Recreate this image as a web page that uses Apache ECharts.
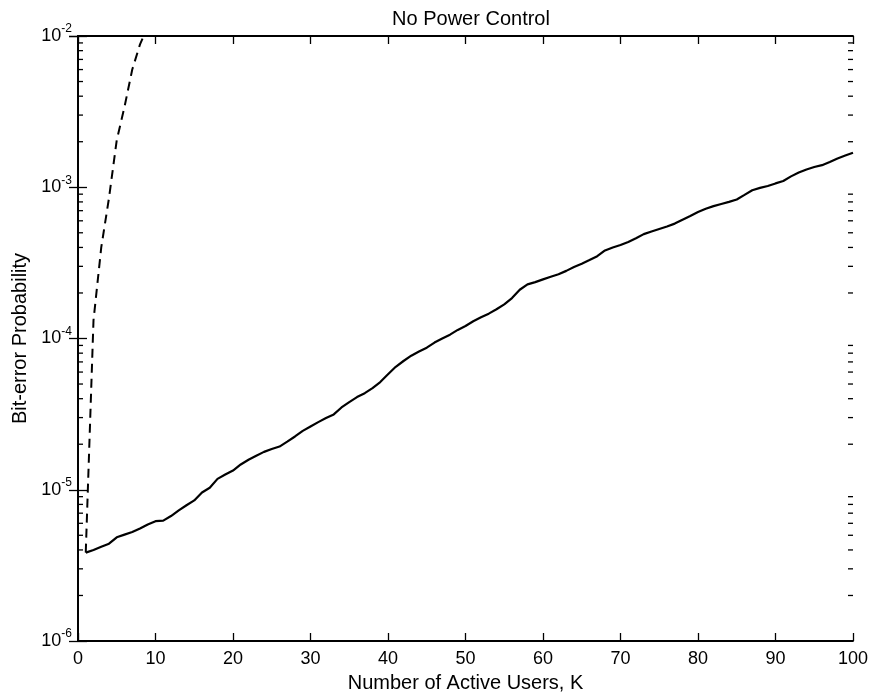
<!DOCTYPE html>
<html>
<head>
<meta charset="utf-8">
<script src="https://cdn.jsdelivr.net/npm/echarts@6/dist/echarts.min.js"></script>
<style>
  html, body { margin: 0; padding: 0; background: #fff; }
  #main { width: 872px; height: 698px; }
</style>
</head>
<body>
<div id="main"></div>
<script>
// number of active users K = 1..100
const usersK = [];
for (let k = 1; k <= 100; k++) usersK.push(k);

// solid curve
const solidBER = [
  3.84e-6, 4.0e-6, 4.2e-6, 4.4e-6, 4.85e-6, 5.05e-6, 5.25e-6, 5.55e-6, 5.9e-6, 6.2e-6,
  6.25e-6, 6.7e-6, 7.3e-6, 7.9e-6, 8.5e-6, 9.6e-6, 1.03e-5, 1.18e-5, 1.26e-5, 1.34e-5,
  1.47e-5, 1.58e-5, 1.68e-5, 1.78e-5, 1.86e-5, 1.93e-5, 2.08e-5, 2.25e-5, 2.45e-5, 2.62e-5,
  2.8e-5, 2.98e-5, 3.15e-5, 3.5e-5, 3.8e-5, 4.1e-5, 4.35e-5, 4.7e-5, 5.15e-5, 5.8e-5,
  6.5e-5, 7.1e-5, 7.7e-5, 8.2e-5, 8.7e-5, 9.4e-5, 1.0e-4, 1.06e-4, 1.14e-4, 1.21e-4,
  1.3e-4, 1.38e-4, 1.46e-4, 1.56e-4, 1.68e-4, 1.85e-4, 2.1e-4, 2.28e-4, 2.36e-4, 2.46e-4,
  2.56e-4, 2.66e-4, 2.8e-4, 2.97e-4, 3.12e-4, 3.3e-4, 3.5e-4, 3.82e-4, 4.0e-4, 4.15e-4,
  4.35e-4, 4.6e-4, 4.9e-4, 5.1e-4, 5.3e-4, 5.5e-4, 5.75e-4, 6.1e-4, 6.45e-4, 6.85e-4,
  7.2e-4, 7.5e-4, 7.75e-4, 8.0e-4, 8.3e-4, 8.9e-4, 9.55e-4, 9.9e-4, 1.02e-3, 1.06e-3,
  1.1e-3, 1.18e-3, 1.25e-3, 1.31e-3, 1.36e-3, 1.4e-3, 1.47e-3, 1.55e-3, 1.62e-3, 1.69e-3
];

// dashed curve (runs off the top of the axes)
const dashedK = [1, 2, 3, 4, 5, 6, 7, 8, 9];
const dashedBER = [3.84e-6, 1.32e-4, 4.0e-4, 8.5e-4, 2.05e-3, 3.4e-3, 6.0e-3, 8.8e-3, 1.15e-2];

// axis ticks
const xTicks = [0, 10, 20, 30, 40, 50, 60, 70, 80, 90, 100];
const decades = [1e-6, 1e-5, 1e-4, 1e-3];
const minorMult = [2, 3, 4, 5, 6, 7, 8, 9];

const minorTickValues = [];
decades.forEach((d) => minorMult.forEach((m) => minorTickValues.push(m * d)));

const FONT = "'Liberation Sans', Arial, sans-serif";

const chart = echarts.init(document.getElementById("main"), null, { renderer: "canvas" });

const axisLineStyle = { color: "#000", width: 1.8 };
const tickStyle = { color: "#000", width: 1.3 };

const option = {
  animation: false,
  backgroundColor: "#fff",
  title: {
    text: "No Power Control",
    left: 466,
    textAlign: "center",
    top: 4,
    textStyle: { fontFamily: FONT, fontSize: 20, fontWeight: "normal", color: "#000" },
  },
  grid: { left: 78, right: 19, top: 36, bottom: 57, containLabel: false },
  xAxis: [
    {
      type: "value",
      min: 0,
      max: 100,
      interval: 10,
      position: "bottom",
      name: "Number of Active Users, K",
      nameLocation: "middle",
      nameGap: 32,
      nameTextStyle: { fontFamily: FONT, fontSize: 20, color: "#000" },
      axisLine: { lineStyle: axisLineStyle },
      axisTick: { inside: true, length: 8, lineStyle: tickStyle },
      axisLabel: {
        margin: 9,
        fontFamily: FONT,
        fontSize: 18,
        color: "#000",
        formatter: (v) => (xTicks.indexOf(v) >= 0 ? String(v) : ""),
      },
      splitLine: { show: false },
    },
    {
      type: "value",
      min: 0,
      max: 100,
      interval: 10,
      position: "top",
      axisLine: { lineStyle: axisLineStyle },
      axisTick: { inside: true, length: 8, lineStyle: tickStyle },
      axisLabel: { show: false },
      splitLine: { show: false },
    },
  ],
  yAxis: [
    {
      type: "log",
      logBase: 10,
      min: 1e-6,
      max: 1e-2,
      interval: 1,
      position: "left",
      name: "Bit-error Probability",
      nameLocation: "middle",
      nameGap: 47,
      nameTextStyle: { fontFamily: FONT, fontSize: 20, color: "#000" },
      axisLine: { lineStyle: axisLineStyle },
      axisTick: { inside: true, length: 9, lineStyle: tickStyle },
      axisLabel: {
        margin: 6,
        fontFamily: FONT,
        color: "#000",
        formatter: (v) => {
          const e = Math.round(Math.log10(v));
          return "{b|10}{s|" + e + "}";
        },
        rich: {
          b: { fontFamily: FONT, fontSize: 18, color: "#000" },
          s: { fontFamily: FONT, fontSize: 12, color: "#000", padding: [0, 0, 14, 0] },
        },
      },
      splitLine: { show: false },
    },
    {
      type: "log",
      logBase: 10,
      min: 1e-6,
      max: 1e-2,
      interval: 1,
      position: "right",
      axisLine: { lineStyle: axisLineStyle },
      axisTick: { inside: true, length: 9, lineStyle: tickStyle },
      axisLabel: { show: false },
      splitLine: { show: false },
    },
  ],
  series: [
    {
      name: "solid",
      type: "line",
      data: usersK.map((k, i) => [k, solidBER[i]]),
      showSymbol: false,
      smooth: false,
      lineStyle: { color: "#000", width: 2.2 },
    },
    {
      name: "dashed",
      type: "line",
      data: dashedK.map((k, i) => [k, dashedBER[i]]),
      showSymbol: false,
      clip: true,
      lineStyle: { color: "#000", width: 2, type: [9, 6] },
    },
    {
      // minor ticks of the log axis, left and right sides
      name: "minorTicks",
      type: "custom",
      silent: true,
      clip: false,
      data: minorTickValues.map((v) => [0, v]),
      renderItem: (params, api) => {
        const p = api.coord([0, api.value(1)]);
        const cs = params.coordSys;
        const xl = cs.x;
        const xr = cs.x + cs.width;
        const style = { stroke: "#000", lineWidth: 1.3 };
        return {
          type: "group",
          children: [
            { type: "line", shape: { x1: xl, y1: p[1], x2: xl + 5, y2: p[1] }, style },
            { type: "line", shape: { x1: xr, y1: p[1], x2: xr - 5, y2: p[1] }, style },
          ],
        };
      },
    },
  ],
};

chart.setOption(option);
</script>
</body>
</html>
